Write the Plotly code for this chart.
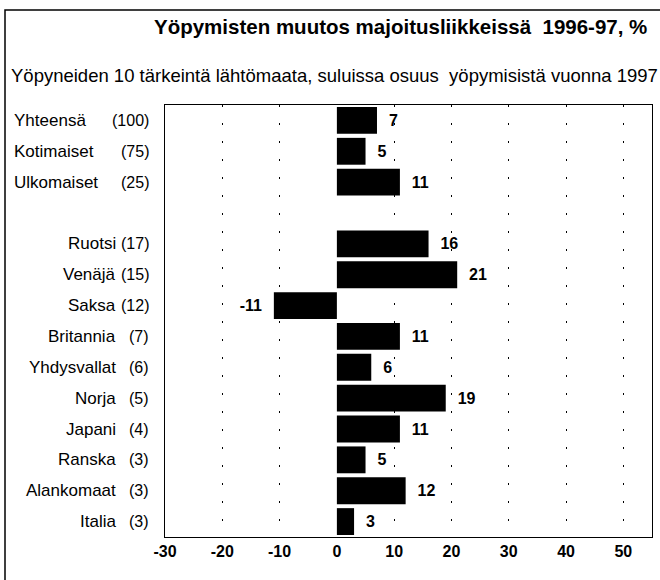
import plotly.graph_objects as go

names = ["Yhteensä", "Kotimaiset", "Ulkomaiset", " ", "Ruotsi", "Venäjä", "Saksa",
         "Britannia", "Yhdysvallat", "Norja", "Japani", "Ranska", "Alankomaat", "Italia"]
shares = [100, 75, 25, None, 17, 15, 12, 7, 6, 5, 4, 3, 3, 3]
changes = [7, 5, 11, None, 16, 21, -11, 11, 6, 19, 11, 5, 12, 3]
left_aligned = [True, True, True, False, False, False, False, False, False, False, False, False, False, False]
x_ticks = [-30, -20, -10, 0, 10, 20, 30, 40, 50]
x_ticktext = ["-30", "-20", "-10", "0", "10", "20", "30", "40", "50"]
grid_vals = [-20, -10, 10, 20, 30, 40, 50]

title = "Yöpymisten muutos majoitusliikkeissä  1996-97, %"
subtitle = "Yöpyneiden 10 tärkeintä lähtömaata, suluissa osuus  yöpymisistä vuonna 1997"

FONT = "Liberation Sans, Arial, sans-serif"
W, H = 660, 580
L, R, T, B = 165, 8, 105, 43
pw, ph = W - L - R, H - T - B

def px_to_paper_x(px):
    return (px - L) / pw

def px_to_paper_y(py):
    return (H - B - py) / ph

texts = []
for v in changes:
    if v is None:
        texts.append("")
    elif v >= 0:
        texts.append(f"  {v}")
    else:
        texts.append(f"{v}  ")

fig = go.Figure(go.Bar(
    x=changes, y=names, orientation="h",
    marker=dict(color="black", line=dict(width=0)),
    text=texts, textposition="outside", cliponaxis=False,
    textfont=dict(family=FONT, size=16, color="black", weight="bold"),
    hoverinfo="skip",
))

annotations = []
for n, s, la in zip(names, shares, left_aligned):
    if s is None:
        continue
    annotations.append(dict(
        x=px_to_paper_x(12) if la else px_to_paper_x(118), xref="paper",
        y=n, yref="y", text=n, showarrow=False,
        xanchor="left" if la else "right",
        font=dict(family=FONT, size=17, color="black"),
    ))
    annotations.append(dict(
        x=px_to_paper_x(151), xref="paper", y=n, yref="y", text=f"({s})",
        showarrow=False, xanchor="right",
        font=dict(family=FONT, size=16, color="black"),
    ))

annotations.append(dict(
    x=px_to_paper_x(649), xref="paper", y=px_to_paper_y(27), yref="paper",
    text=f"<b>{title}</b>", showarrow=False, xanchor="right", yanchor="middle",
    font=dict(family=FONT, size=20.5, color="black"),
))
annotations.append(dict(
    x=px_to_paper_x(9), xref="paper", y=px_to_paper_y(75), yref="paper",
    text=subtitle, showarrow=False, xanchor="left", yanchor="middle",
    font=dict(family=FONT, size=18.5, color="black"),
))

fig.update_layout(
    width=W, height=H,
    margin=dict(l=L, r=R, t=T, b=B),
    paper_bgcolor="white", plot_bgcolor="white",
    showlegend=False, bargap=0.13,
    annotations=annotations,
    shapes=[dict(type="rect", xref="paper", yref="paper",
                 x0=px_to_paper_x(5), x1=px_to_paper_x(663),
                 y0=px_to_paper_y(595), y1=px_to_paper_y(10),
                 line=dict(color="black", width=1.5), fillcolor="rgba(0,0,0,0)")],
    xaxis=dict(
        range=[-30, 55], tickvals=x_ticks, ticktext=x_ticktext,
        showgrid=False, zeroline=False,
        showline=True, mirror=True, linecolor="black", linewidth=1,
        ticks="", tickfont=dict(family=FONT, size=16, color="black", weight="bold"),
        minor=dict(tickvals=grid_vals, showgrid=True, gridcolor="black",
                   griddash="2px,16px", gridwidth=1, ticks=""),
        fixedrange=True,
    ),
    yaxis=dict(
        categoryorder="array", categoryarray=names, autorange="reversed",
        showticklabels=False, showgrid=False, zeroline=False,
        showline=True, mirror=True, linecolor="black", linewidth=1, ticks="",
        fixedrange=True,
    ),
)

fig.write_html("out.html", config={"displayModeBar": False},
               post_script="document.body.style.margin='0px';")
